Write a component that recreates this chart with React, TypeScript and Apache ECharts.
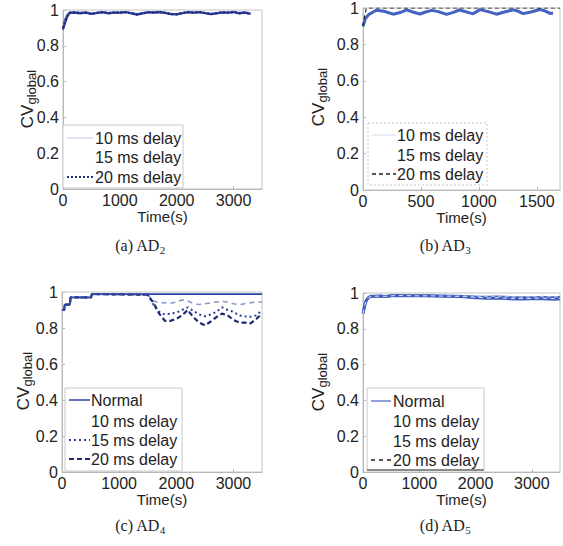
import React, { useEffect, useRef } from "react";
import * as echarts from "echarts";

// ---------- data ----------
// (a) AD2
const timeA = [0, 40, 80, 120, 200, 300, 400, 500, 600, 700, 800, 900, 1000, 1100, 1200, 1300, 1400, 1500, 1600, 1700, 1800, 1900, 2000, 2100, 2200, 2300, 2400, 2500, 2600, 2700, 2800, 2900, 3000, 3100, 3200, 3300];
const a10 = [0.90, 0.95, 0.975, 0.986, 0.988, 0.985, 0.987, 0.981, 0.985, 0.989, 0.984, 0.987, 0.986, 0.989, 0.984, 0.978, 0.983, 0.988, 0.987, 0.990, 0.985, 0.979, 0.978, 0.984, 0.989, 0.986, 0.989, 0.984, 0.979, 0.983, 0.988, 0.986, 0.990, 0.984, 0.987, 0.981];
const a15 = [0.89, 0.93, 0.965, 0.983, 0.985, 0.981, 0.985, 0.977, 0.983, 0.987, 0.981, 0.985, 0.984, 0.988, 0.981, 0.974, 0.980, 0.987, 0.985, 0.988, 0.983, 0.976, 0.975, 0.982, 0.987, 0.984, 0.988, 0.982, 0.976, 0.981, 0.986, 0.984, 0.988, 0.981, 0.985, 0.978];
const a20 = [0.90, 0.94, 0.97, 0.985, 0.987, 0.983, 0.986, 0.978, 0.984, 0.988, 0.982, 0.986, 0.985, 0.989, 0.982, 0.975, 0.981, 0.988, 0.986, 0.989, 0.984, 0.977, 0.976, 0.983, 0.988, 0.985, 0.989, 0.983, 0.977, 0.982, 0.987, 0.985, 0.989, 0.982, 0.986, 0.979];

// (b) AD3
const timeB = [0, 20, 50, 80, 118, 180, 261, 320, 377, 430, 491, 540, 592, 650, 721, 780, 830, 890, 950, 1009, 1080, 1152, 1220, 1296, 1340, 1382, 1450, 1526, 1570, 1614, 1640];
const b10 = [0.90, 0.945, 0.968, 0.977, 0.989, 0.984, 0.969, 0.977, 0.991, 0.980, 0.970, 0.980, 0.988, 0.982, 0.968, 0.978, 0.990, 0.981, 0.971, 0.992, 0.982, 0.969, 0.980, 0.991, 0.984, 0.972, 0.980, 0.993, 0.986, 0.973, 0.975];
const b15 = [0.90, 0.94, 0.965, 0.975, 0.988, 0.982, 0.966, 0.975, 0.99, 0.978, 0.967, 0.978, 0.987, 0.98, 0.965, 0.976, 0.989, 0.979, 0.968, 0.991, 0.98, 0.966, 0.978, 0.99, 0.982, 0.969, 0.978, 0.992, 0.984, 0.97, 0.972];
const timeB20 = [0, 15, 30, 1700];
const b20 = [0.90, 0.96, 1.0, 1.0];

// (c) AD4
const timeCNormal = [0, 40, 45, 140, 150, 510, 520, 3500];
const cNormal = [0.90, 0.90, 0.93, 0.93, 0.97, 0.97, 0.988, 0.988];
const timeCDelay = [0, 40, 45, 140, 150, 510, 520, 1500, 1600, 1700, 1800, 1900, 2000, 2100, 2200, 2300, 2400, 2500, 2600, 2700, 2800, 2900, 3000, 3100, 3200, 3300, 3400, 3500];
const c10 = [0.90, 0.90, 0.93, 0.93, 0.97, 0.97, 0.988, 0.985, 0.95, 0.94, 0.94, 0.937, 0.945, 0.956, 0.95, 0.935, 0.93, 0.935, 0.94, 0.945, 0.948, 0.945, 0.935, 0.93, 0.935, 0.94, 0.945, 0.945];
const c15 = [0.90, 0.90, 0.93, 0.93, 0.97, 0.97, 0.988, 0.985, 0.93, 0.89, 0.875, 0.88, 0.885, 0.90, 0.915, 0.895, 0.875, 0.865, 0.875, 0.89, 0.915, 0.90, 0.89, 0.87, 0.865, 0.862, 0.87, 0.90];
const c20 = [0.90, 0.90, 0.93, 0.93, 0.97, 0.97, 0.988, 0.985, 0.94, 0.88, 0.84, 0.84, 0.85, 0.87, 0.90, 0.86, 0.83, 0.815, 0.835, 0.86, 0.88, 0.87, 0.845, 0.83, 0.83, 0.826, 0.85, 0.88];

// (d) AD5
const timeD = [0, 30, 60, 100, 150, 200, 300, 400, 500, 600, 800, 1000, 1200, 1400, 1600, 1800, 2000, 2200, 2400, 2600, 2800, 3000, 3200, 3400, 3500];
const dNormal = [0.885, 0.93, 0.96, 0.975, 0.982, 0.982, 0.983, 0.981, 0.985, 0.986, 0.985, 0.984, 0.984, 0.983, 0.982, 0.981, 0.978, 0.976, 0.977, 0.975, 0.974, 0.974, 0.975, 0.973, 0.975];
const d10 = [0.885, 0.93, 0.96, 0.975, 0.982, 0.983, 0.984, 0.982, 0.985, 0.987, 0.986, 0.985, 0.985, 0.984, 0.984, 0.983, 0.982, 0.98, 0.981, 0.979, 0.978, 0.979, 0.98, 0.978, 0.979];
const d15 = [0.885, 0.93, 0.96, 0.975, 0.982, 0.982, 0.983, 0.981, 0.984, 0.986, 0.985, 0.984, 0.983, 0.982, 0.98, 0.978, 0.972, 0.969, 0.97, 0.966, 0.965, 0.966, 0.967, 0.964, 0.966];
const d20 = [0.885, 0.93, 0.96, 0.975, 0.982, 0.982, 0.983, 0.981, 0.984, 0.986, 0.985, 0.984, 0.984, 0.983, 0.982, 0.98, 0.976, 0.972, 0.974, 0.97, 0.969, 0.97, 0.971, 0.968, 0.97];

const xMaxes = [3500, 1700, 3500, 3500];
const xIntervals = [1000, 500, 1000, 1000];
const legendNames = ["Normal", "10 ms delay", "15 ms delay", "20 ms delay"];
const captions = [
  ["(a) AD", "2"],
  ["(b) AD", "3"],
  ["(c) AD", "4"],
  ["(d) AD", "5"],
];

// ---------- layout ----------
const grids = [
  { left: 63, top: 10, width: 199, height: 179 },
  { left: 363, top: 8, width: 197, height: 182 },
  { left: 62, top: 292, width: 200, height: 180 },
  { left: 363, top: 293, width: 197, height: 179 },
];

const SANS = "Liberation Sans, Arial, Helvetica, sans-serif";
const SERIF = "Liberation Serif, Times New Roman, serif";

function pairs(t: number[], v: number[]) {
  return t.map((x, i) => [x, v[i]]);
}

function mk(name: string, t: number[], v: number[], idx: number, color: string, width: number, dash?: any, z = 2) {
  return {
    type: "line",
    name,
    xAxisIndex: idx,
    yAxisIndex: idx,
    data: pairs(t, v),
    showSymbol: false,
    symbol: "none",
    z,
    lineStyle: { color, width, type: dash || "solid" },
    emphasis: { disabled: true },
  };
}

function legendBox(x: number, y: number, w: number, h: number, rows: { y: number; text: string; color: string; width: number; dash?: number[] }[], textX: number, sampleX1: number, sampleX2: number, dashedBorder: boolean, bottomDark = false) {
  const els: any[] = [
    {
      type: "rect",
      shape: { x, y, width: w, height: h },
      style: { fill: "#fff", stroke: "#c8c8c8", lineWidth: 1, lineDash: dashedBorder ? [2, 2] : null },
      z: 10,
    },
  ];
  if (bottomDark) {
    els.push({ type: "line", shape: { x1: x, y1: y + h, x2: x + w, y2: y + h }, style: { stroke: "#333", lineWidth: 1.2 }, z: 11 });
  }
  rows.forEach((r) => {
    els.push({
      type: "line",
      shape: { x1: sampleX1, y1: r.y, x2: sampleX2, y2: r.y },
      style: { stroke: r.color, lineWidth: r.width, lineDash: r.dash || null },
      z: 11,
    });
    els.push({
      type: "text",
      x: textX,
      y: r.y,
      style: {
        text: r.text,
        fontSize: 16,
        fontFamily: SANS,
        fill: "#222",
        align: "left",
        verticalAlign: "middle",
        textAlign: "left",
        textVerticalAlign: "middle",
      },
      z: 11,
    });
  });
  return els;
}

function yName(x: number, y: number) {
  return {
    type: "text",
    x,
    y,
    rotation: Math.PI / 2,
    style: {
      text: "{m|CV}{s|global}",
      align: "center",
      verticalAlign: "middle",
      textAlign: "center",
      textVerticalAlign: "middle",
      fill: "#222",
      rich: {
        m: { fontSize: 17, fontFamily: SANS, lineHeight: 22, fill: "#222" },
        s: { fontSize: 13, fontFamily: SANS, lineHeight: 13, verticalAlign: "bottom", fill: "#222" },
      },
    },
    z: 12,
  };
}

function caption(x: number, y: number, c: string[]) {
  return {
    type: "text",
    x,
    y,
    style: {
      text: `{m|${c[0]}}{s|${c[1]}}`,
      align: "center",
      verticalAlign: "middle",
      textAlign: "center",
      textVerticalAlign: "middle",
      fill: "#222",
      rich: {
        m: { fontSize: 16, fontFamily: SERIF, lineHeight: 20, fill: "#222" },
        s: { fontSize: 11, fontFamily: SERIF, lineHeight: 12, verticalAlign: "bottom", fill: "#222" },
      },
    },
    z: 12,
  };
}

export default function App() {
  const ref = useRef<HTMLDivElement>(null);
  useEffect(() => {
    document.body.style.margin = "0";
    if (!ref.current) return;
    const chart = echarts.init(ref.current, undefined, { renderer: "svg" });

    const axisColor = "#b8b8b8";
    const xAxis = grids.map((_, i) => ({
      gridIndex: i,
      type: "value",
      min: 0,
      max: xMaxes[i],
      interval: xIntervals[i],
      axisLine: { show: true, onZero: false, lineStyle: { color: axisColor } },
      axisTick: { show: true, inside: true, length: 3, lineStyle: { color: axisColor } },
      splitLine: { show: false },
      axisLabel: {
        margin: 3,
        fontSize: 16,
        color: "#222",
        fontFamily: SANS,
        showMaxLabel: false,
        formatter: (v: number) => String(Math.round(v)),
      },
      name: "Time(s)",
      nameLocation: "middle",
      nameGap: 18,
      nameTextStyle: { fontSize: 15, color: "#222", fontFamily: SANS },
    }));
    const yAxis = grids.map((_, i) => ({
      gridIndex: i,
      type: "value",
      min: 0,
      max: 1,
      interval: 0.2,
      axisLine: { show: true, lineStyle: { color: axisColor } },
      axisTick: { show: true, inside: true, length: 3, lineStyle: { color: axisColor } },
      splitLine: { show: false },
      axisLabel: {
        margin: 4,
        fontSize: 16,
        color: "#222",
        fontFamily: SANS,
        formatter: (v: number) => (v === 0 ? "0" : v === 1 ? "1" : v.toFixed(1)),
      },
    }));

    const navy = "#1f2b80";
    const series = [
      // (a)
      mk("10 ms delay", timeA, a10, 0, "#5d6fc0", 2),
      mk("15 ms delay", timeA, a15, 0, "#2a3a95", 2),
      mk("20 ms delay", timeA, a20, 0, navy, 2.2, [2, 2]),
      // (b)
      mk("10 ms delay", timeB, b10, 1, "#8fa2dc", 1.5),
      mk("15 ms delay", timeB, b15, 1, "#4562c0", 3),
      mk("20 ms delay", timeB20, b20, 1, "#222", 1.2, [4, 3]),
      // (c)
      mk("10 ms delay", timeCDelay, c10, 2, "#8796cf", 1.5, [5, 4]),
      mk("15 ms delay", timeCDelay, c15, 2, "#2b3d95", 2, [2, 3]),
      mk("20 ms delay", timeCDelay, c20, 2, "#1d2a70", 2.2, [5, 3]),
      mk("Normal", timeCNormal, cNormal, 2, "#2d44a3", 1.8, undefined, 3),
      // (d)
      mk("Normal", timeD, dNormal, 3, "#4562c0", 3),
      mk("10 ms delay", timeD, d10, 3, "#9fb0e0", 1.5, [4, 3]),
      mk("15 ms delay", timeD, d15, 3, "#3f5cbc", 2.5),
      mk("20 ms delay", timeD, d20, 3, "#e8ecf8", 1, [4, 4]),
    ];

    const graphic: any[] = [
      ...legendBox(63, 125, 120, 63, [
        { y: 138, text: legendNames[1], color: "#d8dcec", width: 1.5 },
        { y: 157, text: legendNames[2], color: "#ffffff", width: 1.5 },
        { y: 177, text: legendNames[3], color: navy, width: 2, dash: [2, 2] },
      ], 95, 67, 93, false),
      ...legendBox(368, 123, 119, 62, [
        { y: 135, text: legendNames[1], color: "#e4e7f2", width: 1.5 },
        { y: 155, text: legendNames[2], color: "#ffffff", width: 1.5 },
        { y: 174, text: legendNames[3], color: "#222", width: 1.5, dash: [4, 3] },
      ], 397, 372, 396, true),
      ...legendBox(65, 388, 117, 83, [
        { y: 400, text: legendNames[0], color: "#2d44a3", width: 1.5 },
        { y: 421, text: legendNames[1], color: "#ffffff", width: 1.5 },
        { y: 440, text: legendNames[2], color: "#2b3d95", width: 1.8, dash: [2, 3] },
        { y: 459, text: legendNames[3], color: "#1d2a70", width: 1.8, dash: [5, 3] },
      ], 91, 69, 90, false),
      ...legendBox(367, 388, 117, 82, [
        { y: 401, text: legendNames[0], color: "#6a82cf", width: 1.5 },
        { y: 421, text: legendNames[1], color: "#ffffff", width: 1.5 },
        { y: 441, text: legendNames[2], color: "#ffffff", width: 1.5 },
        { y: 460, text: legendNames[3], color: "#222", width: 1.5, dash: [4, 4] },
      ], 393, 371, 391, false, true),
      yName(27, 99),
      yName(318, 97),
      yName(23, 381),
      yName(318, 382),
      caption(140, 245, captions[0]),
      caption(445, 245, captions[1]),
      caption(140, 525, captions[2]),
      caption(445, 525, captions[3]),
    ];

    chart.setOption({
      animation: false,
      backgroundColor: "#fff",
      grid: grids.map((g) => ({ ...g, show: true, borderColor: "#c4c4c4", borderWidth: 1, backgroundColor: "transparent" })),
      xAxis,
      yAxis,
      series,
      graphic,
    });
    return () => chart.dispose();
  }, []);
  return <div ref={ref} style={{ width: 563, height: 546 }} />;
}
